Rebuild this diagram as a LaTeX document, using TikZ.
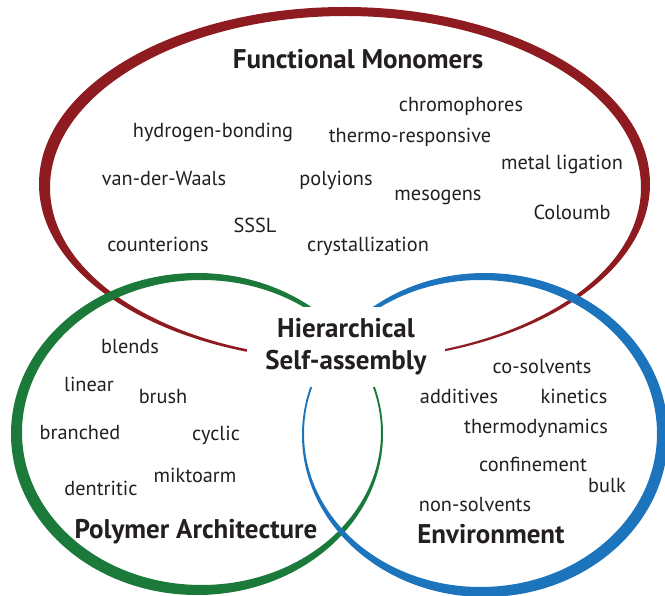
\documentclass[tikz,border=0pt]{standalone}
\usepackage{fontspec}
\setmainfont{PT Sans}

\definecolor{ringred}{RGB}{142,27,31}
\definecolor{ringgreen}{RGB}{27,122,58}
\definecolor{ringblue}{RGB}{28,117,188}
\definecolor{wordgray}{RGB}{35,31,32}

\tikzset{
	word/.style={text=wordgray,font=\fontsize{20.3}{20.3}\selectfont,inner sep=0pt,text height=15pt,text depth=4pt},
	title/.style={text=wordgray,font=\fontsize{27}{32}\selectfont\bfseries,inner sep=0pt},
}

\begin{document}
\begin{tikzpicture}[x=1pt,y=-1pt]
	\useasboundingbox (0,0) rectangle (665,596);

	% rings: thick outside, thin towards the middle
	\fill[ringred,even odd rule] (344.5,184) ellipse [x radius=305.5,y radius=177]
		(345.5,187.5) ellipse [x radius=295.5,y radius=171.5];
	\fill[ringgreen,even odd rule] (197,434) ellipse [x radius=186,y radius=161]
		(201.5,432.5) ellipse [x radius=179.5,y radius=152.5];
	\fill[ringblue,even odd rule] (485,435) ellipse [x radius=183,y radius=162]
		(480.5,433.5) ellipse [x radius=176.5,y radius=153.5];

	\node[title,fill=white,align=center,minimum width=198pt,minimum height=80pt] (core) at (346,347) {Hierarchical\\Self-assembly};

	\node[title,text height=19pt,text depth=6pt] (monomers) at (358,62) {Functional Monomers};
	\node[title,text height=19pt,text depth=6pt] (architecture) at (196,532) {Polymer Architecture};
	\node[title,text height=19pt,text depth=6pt] (environment) at (491,537) {Environment};

	\foreach \x/\y/\t [count=\i] in {461/106/chromophores,213/132/hydrogen-bonding,410/137/thermo-responsive,
		562/164/metal ligation,164/180/van-der-Waals,336/180/polyions,438/195/mesogens,572/214/Coloumb,
		255/227/SSSL,158/246/counterions,368/246/crystallization}{
		\node[word] (fm\i) at (\x,\y) {\t};
	}

	\foreach \x/\y/\t [count=\i] in {130/348/blends,89/386/linear,163/398/brush,80/434/branched,
		216/435/cyclic,195/477/miktoarm,101/490/dentritic}{
		\node[word] (pa\i) at (\x,\y) {\t};
	}

	\foreach \x/\y/\t [count=\i] in {542/368/co-solvents,459/398/additives,574/398/kinetics,
		536/428/thermodynamics,533/466/confinement,607/487/bulk,475/506/non-solvents}{
		\node[word] (env\i) at (\x,\y) {\t};
	}
\end{tikzpicture}
\end{document}
